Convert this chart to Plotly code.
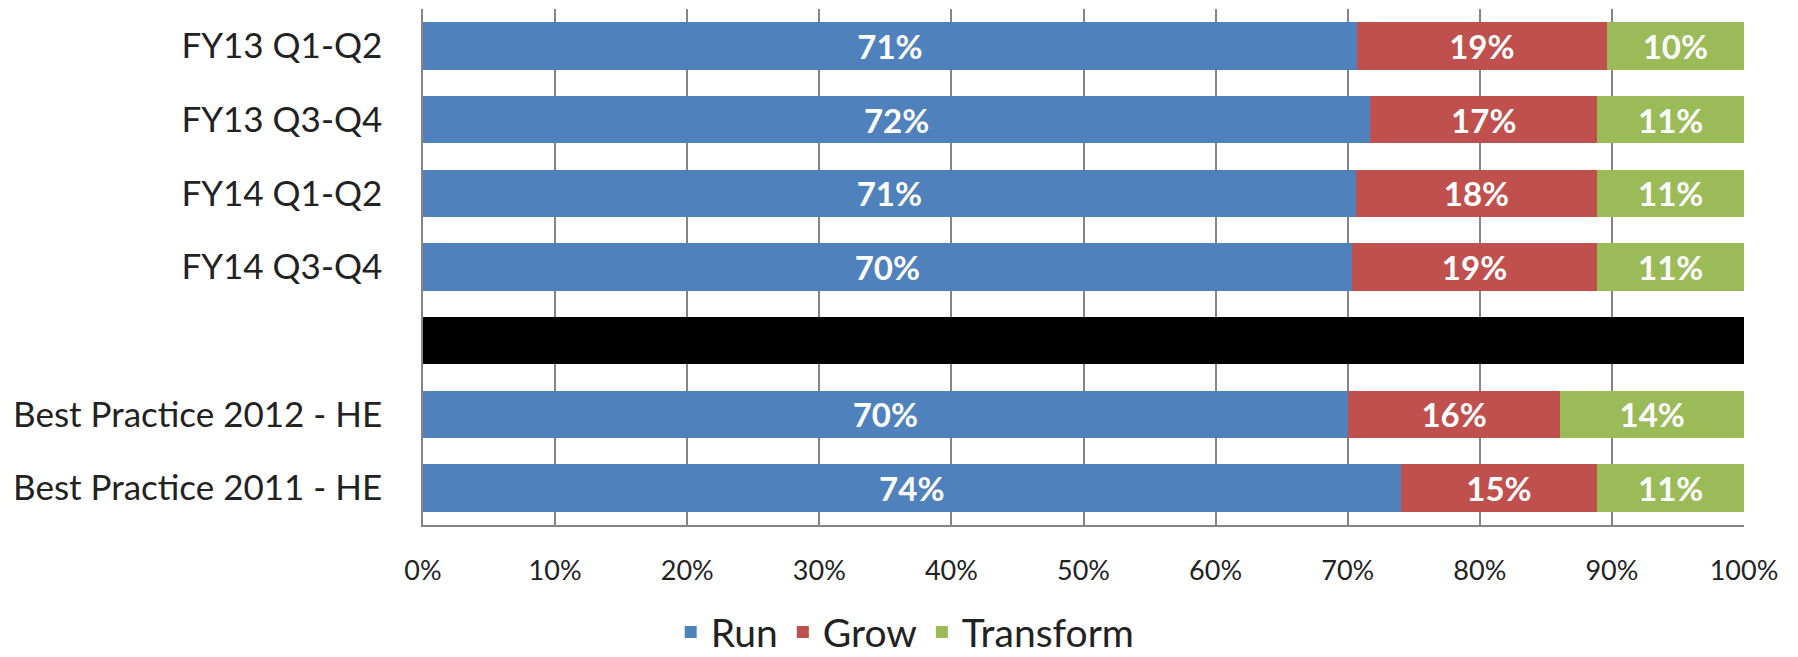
import plotly.graph_objects as go

categories = ["FY13 Q1-Q2", "FY13 Q3-Q4", "FY14 Q1-Q2", "FY14 Q3-Q4", " ",
              "Best Practice 2012 - HE", "Best Practice 2011 - HE"]
run_vals = [70.7, 71.7, 70.6, 70.3, None, 70.0, 74.0]
grow_vals = [18.9, 17.2, 18.3, 18.6, None, 16.1, 14.9]
transform_vals = [10.4, 11.1, 11.1, 11.1, None, 13.9, 11.1]
separator_vals = [None, None, None, None, 100, None, None]
x_ticks = [0, 10, 20, 30, 40, 50, 60, 70, 80, 90, 100]
x_tick_labels = [f"{v}%" for v in x_ticks]

FONT = "Lato"
series = [
    ("Run", run_vals, "#4F81BD"),
    ("Grow", grow_vals, "#C0504D"),
    ("Transform", transform_vals, "#9BBB59"),
]

fig = go.Figure()
for name, vals, color in series:
    fig.add_trace(go.Bar(
        name=name, y=categories, x=vals, orientation="h",
        marker=dict(color=color, line=dict(width=0)),
        texttemplate="%{x:.0f}%", textposition="inside",
        insidetextanchor="middle", textangle=0, constraintext="none",
        textfont=dict(family=FONT, size=33, color="white", weight="bold"),
    ))
fig.add_trace(go.Bar(
    name="separator", y=categories, x=separator_vals, orientation="h",
    marker=dict(color="black", line=dict(width=0)), showlegend=False,
    hoverinfo="skip",
))

fig.update_layout(
    barmode="stack",
    bargap=0.355,
    width=1798, height=657,
    margin=dict(l=415, r=62, t=1, b=140),
    paper_bgcolor="white", plot_bgcolor="white",
    font=dict(family=FONT, color="#222222"),
    legend=dict(orientation="h", xref="container", yref="container",
                x=0.499, xanchor="center", y=0.05, yanchor="middle",
                font=dict(family=FONT, size=39, color="#222222"),
                itemwidth=30, traceorder="normal"),
    showlegend=True,
)
fig.update_xaxes(
    range=[0, 100], tickvals=x_ticks, ticktext=x_tick_labels,
    showgrid=True, gridcolor="#858585", gridwidth=1.5,
    showline=True, linecolor="#858585", linewidth=1.5,
    zeroline=False, ticks="", ticklabelstandoff=21,
    tickfont=dict(family=FONT, size=27, color="#222222"),
)
fig.update_yaxes(
    categoryorder="array", categoryarray=categories,
    range=[6.5, -0.5], autorange=False,
    showgrid=False, showline=True, linecolor="#858585", linewidth=1.5,
    ticks="", ticklabelstandoff=32,
    tickfont=dict(family=FONT, size=35, color="#222222"),
)

fig.write_html("out.html")
